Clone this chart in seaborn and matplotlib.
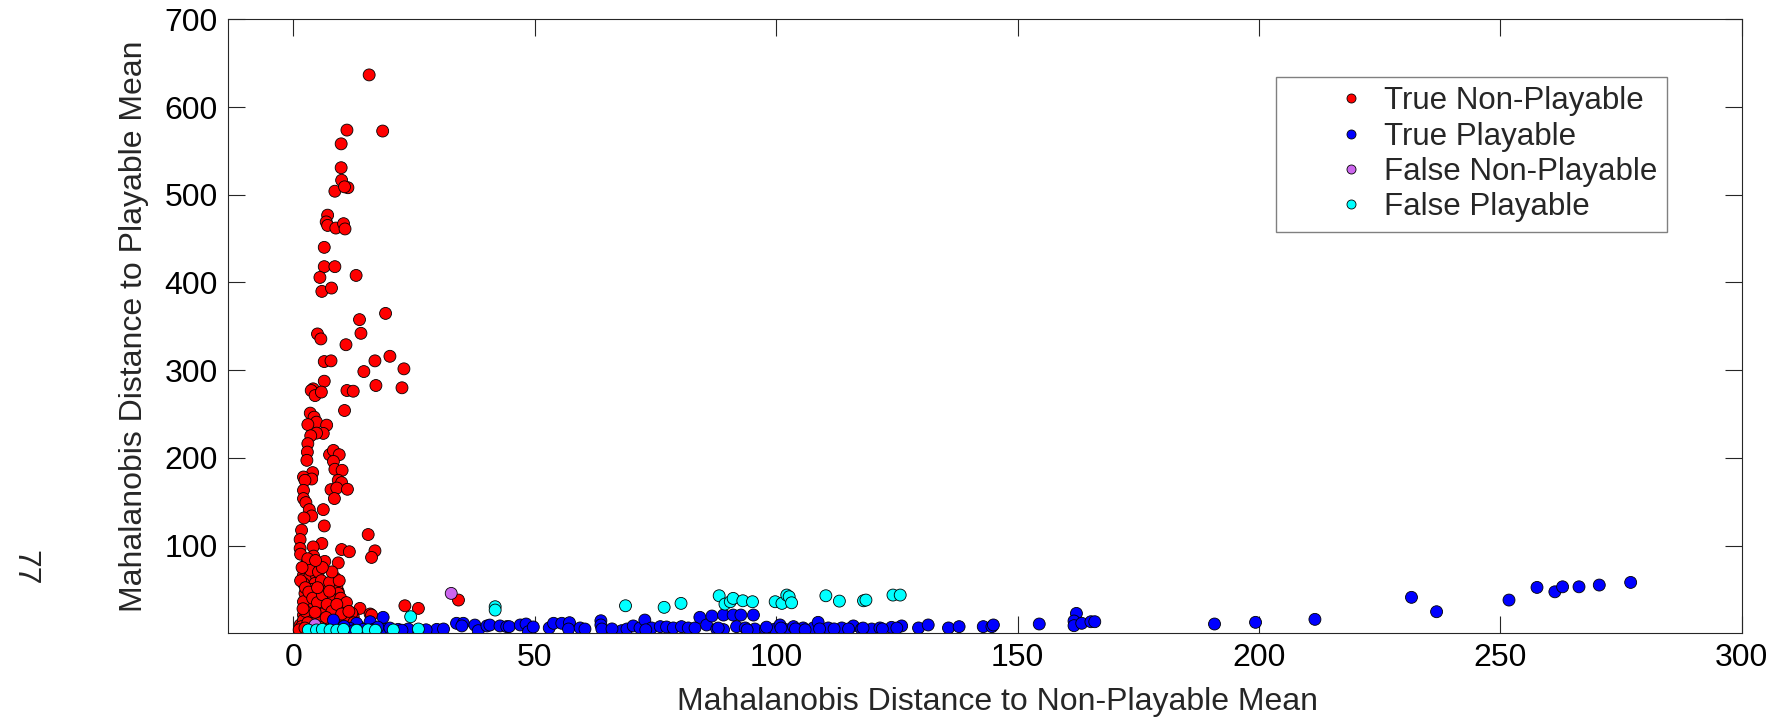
import numpy as np
import pandas as pd
import matplotlib
matplotlib.use("Agg")
import matplotlib.pyplot as plt
import seaborn as sns

# ---------------- data ----------------
tnp_x = [15.7, 11.1, 18.5, 9.9, 9.9, 10.0, 11.3, 8.6, 10.6,
         7.1, 6.8, 7.1, 8.8, 10.4, 10.7,
         6.4, 6.4, 8.6, 5.5, 13.0, 5.9, 7.9,
         19.1, 13.7, 5.0, 5.7, 14.0, 10.9,
         6.4, 7.8, 16.9, 20.0, 22.9, 14.6, 6.4,
         4.1, 3.7, 4.5, 5.8, 11.1, 12.4, 17.1, 22.5,
         10.6, 3.5, 4.3, 4.8, 3.0, 6.9, 6.2, 4.8, 3.6, 3.0, 2.9, 2.8, 4.0, 2.1, 3.8, 2.4,
         2.1, 2.1, 2.6, 3.3, 3.8, 2.2, 1.7, 1.4, 5.9, 1.4,
         7.5, 8.3, 9.5, 8.3, 8.6, 10.1, 9.3, 10.0, 7.8, 9.0, 11.2, 8.5, 6.2, 6.4,
         15.5, 10.0, 11.6, 16.9, 16.2,
         4.1, 1.5, 2.8, 4.1, 4.8, 2.1, 3.3, 4.8, 8.6, 2.1, 4.5, 6.6, 7.9, 5.5, 7.2, 9.3,
         2.8, 6.2, 8.3, 3.5, 5.2, 8.6, 2.1, 4.1, 11.7, 13.8, 15.9, 12.4, 9.7, 1.4, 6.9, 10.4,
         9.3, 2.9, 3.5, 5.2, 6.9, 9.0, 9.3, 6.4, 7.9, 2.4, 2.1, 5.5, 12.1, 16.2, 11.1,
         2.1, 4.8, 7.6, 23.1, 25.9, 34.2, 1.7, 4.8,
         3.0, 5.0, 7.0, 9.0, 11.0, 2.5, 6.0, 8.0, 10.5, 3.8, 5.8, 7.5, 9.8, 11.0, 4.2, 6.5,
         1.5, 2.5, 3.2, 4.0, 5.0, 6.0, 7.0, 8.0, 9.0, 10.0, 3.0, 5.5, 8.5, 2.0, 4.5, 6.8,
         9.5, 8.0, 6.0, 7.5, 5.0, 3.0, 1.8, 4.6, 12.5, 13.5, 11.5, 1.2, 2.4, 3.6, 5.4, 7.2]
tnp_y = [636.6, 573.7, 572.6, 558, 530.8, 516.5, 508, 504, 509,
         476.7, 469, 465, 462, 467, 461,
         440, 418, 418, 405.7, 408, 389.8, 393.6,
         364.7, 357.6, 341.3, 335.6, 342, 329,
         309.8, 310.6, 310.6, 315.8, 301.5, 298.4, 287.4,
         278.7, 276.8, 271, 275, 276.8, 276, 282.5, 279.9,
         254, 251, 246.4, 240.7, 238, 237.3, 227.9, 228.2, 225.2, 216.2, 206.6, 197.2, 183.2, 178.2, 175.9, 174.4,
         163, 153.6, 149, 141, 133.8, 131.5, 117.5, 106.9, 102.4, 96.7,
         203.6, 208.5, 203.6, 196, 187, 185.8, 174.4, 171.8, 163.8, 165.6, 164.2, 153.6, 141, 122.4,
         112.6, 95.5, 93, 94, 86.5,
         98.5, 90.2, 79.6, 77.7, 72, 66.3, 63.7, 65.2, 63.3, 56.9, 56.9, 53, 51.2, 46.2, 45.5, 47.3,
         41.6, 37.9, 37.9, 30.3, 28.4, 28.4, 20.8, 18.9, 22.8, 28.4, 22, 18.9, 15.1, 9.5, 11.4, 9.5,
         80.3, 80.3, 72, 70, 51.2, 53, 45.5, 38.7, 39.8, 45.5, 36, 30.3, 22.8, 20.8, 17,
         15.1, 15.1, 15.1, 31.4, 28.4, 37.9, 7.6, 9.5,
         5, 4, 6, 5, 6, 25, 22, 20, 30, 50, 60, 58, 40, 35, 88, 82,
         60, 52, 47, 40, 35, 44, 33, 25, 33, 22, 12, 12, 9, 28, 24, 18,
         60, 70, 75, 48, 52, 85, 75, 83, 12, 8, 25, 4, 6, 3, 7, 5]

tp_x = [13.1, 15.9, 18.6, 11.7, 14.5, 16.6, 19.0, 21.7, 23.8, 29.7, 31.1, 33.8, 35.2, 34.9, 37.6,
        38.3, 40.1, 40.7, 42.8, 44.2, 9.0, 7.5, 8.3, 10.5, 12.5, 17.5, 20.0, 22.5, 26.0, 27.5,
        44.7, 47.0, 48.2, 48.7, 49.7, 53.0, 53.9, 55.6, 57.2, 57.0, 59.4, 60.4, 63.7, 63.7, 63.9,
        68.0, 69.1, 70.4, 71.8, 72.8, 74.2, 76.0, 77.3, 78.7, 80.4, 81.8, 83.2, 84.2, 85.6, 86.7,
        87.7, 89.1, 89.1, 91.1, 91.8, 92.7, 93.6, 95.3, 95.6, 97.8, 99.8, 100.8, 102.0, 103.6,
        105.6, 107.7, 108.7, 110.8, 113.6, 116.0, 117.7, 119.8, 121.5, 123.9, 126.0, 129.5,
        131.5, 135.7, 137.9, 142.9, 144.7, 145.0,
        66.0, 73.0, 88.0, 94.0, 98.0, 101.0, 104.0, 106.0, 109.0, 112.0, 115.0, 118.0, 122.0, 125.0,
        154.5, 162.2, 161.7, 161.7, 163.3, 165.2, 166.0, 190.8, 199.3, 211.6, 231.6, 236.8,
        251.8, 257.6, 261.3, 262.9, 266.3, 270.5, 277.0]
tp_y = [11.4, 13.2, 18.2, 5.7, 4.5, 4.5, 4.5, 4.5, 4.9, 4.5, 4.9, 11.4, 11.4, 8.4, 9.4,
        3.0, 8.4, 9.4, 8.4, 7.6, 4.5, 3.8, 15.1, 8.0, 3.0, 7.0, 6.0, 3.5, 3.0, 4.0,
        7.6, 9.5, 10.6, 1.9, 7.2, 6.1, 11.4, 11.4, 12.1, 4.9, 6.1, 4.9, 14.3, 9.5, 4.9,
        3.0, 4.9, 8.4, 6.1, 15.1, 6.1, 7.6, 7.2, 6.1, 7.6, 6.1, 6.1, 18.2, 9.5, 19.7,
        4.9, 20.8, 4.2, 20.8, 7.6, 20.8, 6.1, 20.8, 4.9, 4.9, 4.9, 9.5, 4.2, 7.6,
        6.1, 6.1, 12.5, 6.1, 6.1, 8.4, 4.9, 4.9, 6.1, 6.8, 8.4, 6.1,
        9.5, 6.1, 7.6, 7.6, 7.6, 9.5,
        5.0, 4.0, 6.0, 4.0, 7.0, 6.0, 5.0, 4.0, 5.0, 5.0, 5.0, 6.0, 5.0, 6.0,
        10.6, 22.7, 14.0, 8.7, 11.4, 13.2, 13.2, 10.6, 12.5, 15.9, 41.0, 24.6,
        37.9, 52.3, 47.3, 53.0, 53.0, 55.0, 58.0]

fnp_x = [32.7, 4.5]
fnp_y = [45.5, 9.5]

fp_x = [3.1, 4.8, 6.0, 7.6, 9.0, 10.4, 13.1, 15.5, 17.0, 20.7, 25.9, 24.3, 41.8, 41.8,
        68.8, 76.8, 80.3, 88.2, 89.4, 90.5, 91.1, 93.1, 95.1, 99.8, 101.2, 102.2, 102.7, 103.2,
        110.3, 113.1, 118.1, 118.6, 124.2, 125.7]
fp_y = [3.8, 3.8, 4.5, 3.8, 3.5, 4.5, 3.5, 4.0, 3.5, 3.8, 4.9, 18.9, 30.3, 26.5,
        31.4, 29.6, 34.1, 42.8, 33.3, 36, 39.8, 37.1, 36, 36, 34.1, 43.6, 41.7, 34.8,
        42.8, 36.7, 37.1, 37.9, 43.6, 43.6]

classes = ["True Non-Playable", "True Playable", "False Non-Playable", "False Playable"]
colors = ["#ff0000", "#0000ff", "#cc66ee", "#00ffff"]
x_ticks = [0, 50, 100, 150, 200, 250, 300]
y_ticks = [100, 200, 300, 400, 500, 600, 700]
x_label = "Mahalanobis Distance to Non-Playable Mean"
y_label = "Mahalanobis Distance to Playable Mean"
page_number = "77"

df = pd.concat([
    pd.DataFrame({"x": tnp_x, "y": tnp_y, "cls": classes[0]}),
    pd.DataFrame({"x": tp_x, "y": tp_y, "cls": classes[1]}),
    pd.DataFrame({"x": fnp_x, "y": fnp_y, "cls": classes[2]}),
    pd.DataFrame({"x": fp_x, "y": fp_y, "cls": classes[3]}),
], ignore_index=True)

# ---------------- styling ----------------
sns.set_style("white")
plt.rcParams["font.family"] = ["Liberation Sans", "DejaVu Sans"]

W, H, DPI = 1781, 722, 100
fig = plt.figure(figsize=(W / DPI, H / DPI), dpi=DPI)
L, R, T, B = 227.7, 1741.7, 19.3, 633.3
ax = fig.add_axes([L / W, 1 - B / H, (R - L) / W, (B - T) / H])

sns.scatterplot(data=df, x="x", y="y", hue="cls", hue_order=classes,
                palette=colors, s=74, edgecolor="black", linewidth=0.6,
                ax=ax, legend=True, zorder=3)

ax.set_xlim(-13.6, 300)
ax.set_ylim(0, 700)
ax.set_xticks(x_ticks)
ax.set_yticks(y_ticks)
ax.tick_params(direction="in", length=12, width=0.8, colors="#262626",
               labelcolor="black", labelsize=23, top=True, right=True,
               bottom=True, left=True, pad=7)
for sp in ax.spines.values():
    sp.set_visible(True)
    sp.set_color("#262626")
    sp.set_linewidth(0.8)

ax.set_xlabel(x_label, fontsize=23, va="center")
ax.set_ylabel(y_label, fontsize=23, va="center")
ax.xaxis.set_label_coords((997.8 - L) / (R - L), (B - 702) / (B - T))
ax.yaxis.set_label_coords((134 - L) / (R - L), 0.5)

handles, labels = ax.get_legend_handles_labels()
for h in handles:
    h.set_markersize(6.5)
    h.set_markeredgecolor("black")
    h.set_markeredgewidth(0.6)
leg = ax.legend(handles, labels, loc="upper right",
                bbox_to_anchor=((1667 - L) / (R - L), 1 - (77 - T) / (B - T)),
                borderaxespad=0, fontsize=22.5, frameon=True, fancybox=False,
                borderpad=0.3, handlelength=4.2, handletextpad=-1.05,
                labelspacing=0.17, framealpha=1)
leg.get_frame().set_edgecolor("#808080")
leg.get_frame().set_linewidth(1.0)

fig.text(24 / W, 1 - 568 / H, page_number, fontsize=23, rotation=270,
         ha="center", va="center")

fig.savefig("out.png", dpi=DPI)
